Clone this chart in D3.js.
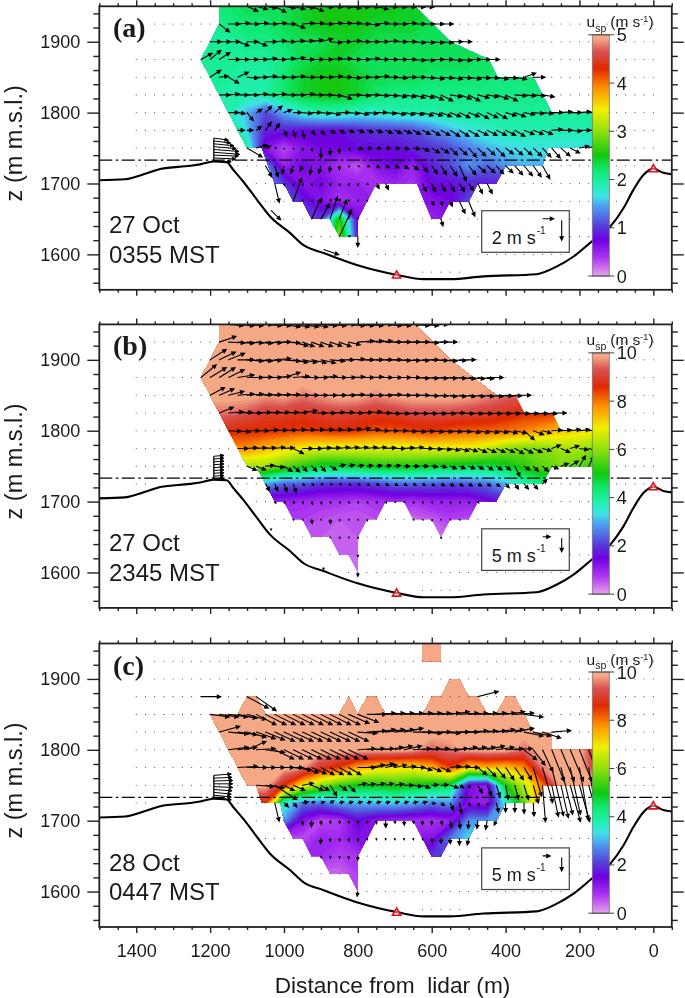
<!DOCTYPE html>
<html>
<head>
<meta charset="utf-8">
<script src="https://cdn.jsdelivr.net/npm/d3@7"></script>
<style>
  body { margin: 0; background: #fff; }
  svg { display: block; filter: blur(0.35px); }
  text { font-family: "Liberation Sans", Arial, sans-serif; fill: #1a1a1a; }
</style>
</head>
<body>
<div id="chart"></div>
<script>
// grid of the colour field (distance from lidar, height)
const fieldDist = [1250,1200,1150,1100,1050,1000,950,900,850,800,750,700,650,600,550,500,450,400,350,300,250,200,150];
const fieldZ = [1950,1925,1900,1875,1850,1825,1800,1775,1750,1725,1700,1675,1650,1625,1600];

const fieldA = [
  [2.2,2.2,2.2,2.3,2.3,2.3,2.4,2.5,2.5,2.5,2.5,2.5,2.4,2.4,2.3,2.3,2.3,2.2,2.2,2.2,2.2,2.2,2.2],
  [2.1,2.1,2.1,2.2,2.2,2.3,2.4,2.5,2.5,2.5,2.4,2.4,2.4,2.3,2.3,2.3,2.3,2.2,2.2,2.2,2.2,2.2,2.2],
  [2.0,2.0,2.0,2.1,2.1,2.2,2.3,2.3,2.4,2.4,2.3,2.3,2.3,2.3,2.3,2.3,2.2,2.2,2.2,2.2,2.2,2.2,2.2],
  [2.0,2.0,2.0,2.0,2.0,2.1,2.3,2.4,2.4,2.3,2.3,2.3,2.3,2.3,2.3,2.3,2.2,2.2,2.2,2.2,2.2,2.2,2.2],
  [2.0,2.0,2.0,1.95,1.95,2.2,2.4,2.5,2.5,2.4,2.3,2.3,2.3,2.2,2.2,2.2,2.2,2.1,2.2,2.2,2.2,2.2,2.2],
  [2.0,2.0,1.9,1.9,1.95,2.2,2.4,2.5,2.5,2.4,2.2,2.1,2.1,2.1,2.1,2.1,2.1,2.1,2.1,2.1,2.1,2.1,2.1],
  [1.9,1.9,1.9,1.5,1.1,1.5,1.8,1.9,1.9,1.8,1.8,1.9,1.9,1.9,2.0,2.0,2.0,2.0,2.0,2.0,2.0,2.0,2.0],
  [2.4,2.4,2.4,1.6,0.9,0.9,0.8,0.8,0.8,0.9,1.0,1.0,1.1,1.3,1.5,1.7,1.8,1.9,1.9,1.9,1.9,1.9,1.9],
  [2.7,2.7,2.7,2.0,0.6,0.3,0.6,0.7,0.7,0.8,0.8,0.8,0.9,1.0,1.1,1.3,1.5,1.6,1.7,1.7,1.7,1.7,1.7],
  [1.4,1.4,1.4,1.4,1.4,0.5,0.7,0.6,0.4,0.25,0.6,0.7,0.5,0.9,1.1,1.4,1.2,1.4,1.5,1.5,1.5,1.5,1.5],
  [1.4,1.4,1.4,1.4,1.4,1.0,0.6,0.7,0.5,0.5,0.4,0.5,0.4,0.8,0.8,0.9,0.9,0.9,0.9,0.9,0.9,0.9,0.9],
  [1.2,1.2,1.2,1.2,1.2,1.2,0.9,0.6,0.4,0.5,0.5,0.5,0.6,0.6,0.7,1.1,1.1,1.1,1.1,1.1,1.1,1.1,1.1],
  [1.0,1.0,1.0,1.0,1.0,1.0,1.0,1.0,2.6,0.7,0.6,0.6,0.6,0.5,0.6,0.6,0.6,0.6,0.6,0.6,0.6,0.6,0.6],
  [1.5,1.5,1.5,1.5,1.5,1.5,1.5,1.5,3.0,0.8,0.8,0.8,0.8,0.8,0.8,0.8,0.8,0.8,0.8,0.8,0.8,0.8,0.8],
  [1.5,1.5,1.5,1.5,1.5,1.5,1.5,1.5,3.0,0.8,0.8,0.8,0.8,0.8,0.8,0.8,0.8,0.8,0.8,0.8,0.8,0.8,0.8]
];
const fieldB = [
  [10,10,10,10,10,10,10,10,10,10,10,10,10,10,10,10,10,10,10,10,10,10,10],
  [10,10,10,10,10,10,10,10,10,10,10,10,10,10,10,10,10,10,10,10,10,10,10],
  [10,10,10,10,10,10,10,10,10,10,10,10,10,10,10,10,10,10,10,10,10,10,10],
  [10,10,10,10,10,10,10,10,10,10,10,10,10,10,10,10,10,10,10,10,10,10,10],
  [10,10,10,10,9.8,9.9,9.6,9.8,10,10,9.7,9.9,10,10,10,9.9,9.7,9.5,9.4,9.3,9.3,9.3,9.3],
  [9.5,9.5,9.5,9.3,9.0,9.0,8.9,9.0,9.1,9.0,8.9,9.0,9.2,9.2,9.2,9.1,9.0,8.8,8.6,8.6,8.5,8.5,8.5],
  [8.8,8.8,8.7,8.6,8.6,8.5,8.4,8.5,8.6,8.5,8.3,8.3,8.4,8.5,8.3,8.2,8.2,8.1,7.9,7.6,7.3,7.1,7.0],
  [7.8,7.8,7.8,7.8,7.4,7.2,6.9,6.7,6.7,6.7,6.7,6.7,6.7,6.8,6.8,6.8,6.5,6.0,5.8,5.9,6.2,6.2,5.7],
  [6.2,6.2,6.2,6.2,6.2,5.6,5.2,4.8,4.8,4.9,5.1,5.1,5.1,4.9,4.8,4.7,4.6,4.8,5.2,5.6,5.8,5.6,5.4],
  [2.9,2.9,2.9,2.9,2.9,2.4,2.3,2.0,1.9,1.9,2.1,2.4,2.4,2.3,2.2,2.3,2.5,3.0,3.8,4.2,4.2,4.2,4.2],
  [1.1,1.1,1.1,1.1,1.1,1.0,0.9,0.8,0.8,0.7,0.8,0.9,0.8,1.0,1.0,1.0,1.4,1.8,1.8,1.8,1.8,1.8,1.8],
  [0.7,0.7,0.7,0.7,0.7,0.7,0.7,0.6,0.5,0.5,0.6,0.6,0.4,0.5,0.7,0.6,0.6,0.6,0.6,0.6,0.6,0.6,0.6],
  [0.5,0.5,0.5,0.5,0.5,0.5,0.5,0.5,0.4,0.5,0.4,0.4,0.4,0.3,0.4,0.4,0.4,0.4,0.4,0.4,0.4,0.4,0.4],
  [0.4,0.4,0.4,0.4,0.4,0.4,0.4,0.4,0.4,0.4,0.4,0.4,0.4,0.4,0.4,0.4,0.4,0.4,0.4,0.4,0.4,0.4,0.4],
  [0.3,0.3,0.3,0.3,0.3,0.3,0.3,0.3,0.3,0.3,0.3,0.3,0.3,0.3,0.3,0.3,0.3,0.3,0.3,0.3,0.3,0.3,0.3]
];
const fieldC = [
  [10,10,10,10,10,10,10,10,10,10,10,10,10,10,10,10,10,10,10,10,10,10,10],
  [10,10,10,10,10,10,10,10,10,10,10,10,10,10,10,10,10,10,10,10,10,10,10],
  [10,10,10,10,10,10,10,10,10,10,10,10,10,10,10,10,10,10,10,10,10,10,10],
  [10,10,10,10,10,10,10,10,10,10,10,10,10,10,10,10,10,10,10,10,10,10,10],
  [10,10,10,10,10,10,10,10,10,10,10,10,10,10,10,10,10,10,10,10,10,10,10],
  [10,10,10,10,10,10,10,10,10,10,10,10,10,10,10,10,10,10,10,10,10,10,10],
  [10,10,10,10,10,10,10,10,10,10,10,10,9.9,9.4,9.6,10,10,10,9.5,10,10,10,8.6],
  [10,10,10,10,10,10,9.8,8.9,8.4,7.6,7.2,7.1,7.0,7.5,8.4,7.2,7.5,7.3,7.8,9.6,10,10,8.8],
  [10,10,10,10,10,8.6,7.0,6.0,5.3,5.0,5.0,5.2,5.0,4.8,4.6,1.4,1.0,5.0,6.4,8.0,10,10,10],
  [8.6,8.6,8.6,8.6,8.6,3.6,2.6,2.5,3.0,3.0,3.1,3.2,3.0,2.6,2.8,1.2,1.0,3.6,5.6,8.2,10,10,10],
  [3.0,3.0,3.0,3.0,3.0,2.8,1.2,0.6,0.7,1.5,1.1,0.9,0.8,0.8,1.0,2.8,2.8,3.0,3.0,3.0,3.0,3.0,3.0],
  [0.6,0.6,0.6,0.6,0.6,0.6,0.6,1.0,0.9,1.3,1.2,1.2,1.2,1.2,2.6,3.3,3.3,3.3,3.3,3.3,3.3,3.3,3.3],
  [0.9,0.9,0.9,0.9,0.9,0.9,0.9,0.9,0.7,0.8,1.5,1.5,1.5,2.0,2.2,2.2,2.2,2.2,2.2,2.2,2.2,2.2,2.2],
  [0.4,0.4,0.4,0.4,0.4,0.4,0.4,0.4,0.4,0.7,0.7,0.7,0.7,0.7,0.7,0.7,0.7,0.7,0.7,0.7,0.7,0.7,0.7],
  [0.6,0.6,0.6,0.6,0.6,0.6,0.6,0.6,0.6,0.6,0.6,0.6,0.6,0.6,0.6,0.6,0.6,0.6,0.6,0.6,0.6,0.6,0.6]
];

// outline of the scanned area in each panel, [distance, height]
const maskA = [[[645,1950],[550,1900],[445,1875],[422,1850],[325,1850],[275,1800],[150,1800],[150,1750],[285,1750],[300,1725],[400,1725],[425,1700],[475,1700],[500,1675],[550,1675],[575,1650],[600,1650],[640,1700],[750,1700],[800,1650],[800,1625],[850,1625],[875,1650],[925,1650],[950,1675],[975,1675],[1000,1700],[1025,1700],[1060,1750],[1100,1750],[1125,1775],[1150,1800],[1175,1825],[1200,1850],[1225,1875],[1175,1925],[1175,1950]]];
const maskB = [[[645,1950],[550,1900],[487,1875],[425,1850],[375,1850],[350,1825],[275,1825],[250,1800],[150,1800],[150,1750],[275,1750],[300,1725],[400,1725],[425,1700],[475,1700],[500,1675],[550,1675],[575,1650],[600,1675],[650,1675],[675,1700],[725,1700],[750,1675],[775,1675],[800,1650],[800,1600],[825,1625],[850,1625],[875,1650],[925,1650],[950,1675],[975,1675],[1000,1700],[1025,1700],[1050,1725],[1075,1750],[1100,1750],[1125,1775],[1150,1800],[1175,1825],[1200,1850],[1225,1875],[1175,1925],[1175,1950]]];
const maskC = [
  [[625,1950],[575,1950],[575,1925],[625,1925]],
  [[1200,1850],[1125,1850],[1100,1875],[1075,1875],[1050,1850],[850,1850],[825,1875],[800,1850],[775,1875],[750,1875],[725,1850],[625,1850],[600,1875],[575,1875],[550,1900],[525,1900],[500,1875],[475,1875],[450,1850],[425,1850],[400,1875],[375,1875],[350,1850],[325,1825],[275,1825],[275,1800],[150,1800],[150,1750],[300,1750],[310,1725],[400,1725],[425,1700],[475,1700],[500,1675],[550,1675],[575,1650],[600,1650],[650,1700],[750,1700],[775,1675],[800,1650],[800,1600],[825,1625],[875,1625],[900,1650],[925,1650],[950,1675],[975,1675],[1000,1700],[1010,1725],[1060,1725],[1075,1750],[1100,1750],[1125,1775],[1150,1800],[1175,1825]]
];

// wind arrows, one row of the lidar grid per entry
const rowZA = [1950,1925,1900,1875,1850,1825,1800,1775,1750,1725,1700,1675,1650,1625];
const rowStartA = [1100,1175,1200,1225,1200,1175,1150,1125,1100,1050,1025,975,925,850];
const uA = [
  [1.9,2,2,2,2,2.1,2.1,2.1,2.2,2.2,2.2,2.2,2.1,2.1,2.1,2.1,2.1,2.1,2.1,2],
  [1.8,2,2.1,2.1,2.1,2.1,2.1,2.1,2.1,2.1,2.2,2.2,2.2,2.2,2.2,2.2,2.2,2.2,2.2,2.2,2.2,2.2,2.2,2.2,2.2],
  [2,2,2,2,2,1.9,2,2,2,2,2,2,2.1,2.1,2.1,2.2,2.2,2.2,2.2,2.2,2.2,2.2,2.2,2.2,2.2,2.2,2.2,2.2],
  [2,1.9,1.9,2,2,2,2,2,2,2,2.1,2.1,2.1,2.1,2.1,2.2,2.2,2.2,2.2,2.2,2.2,2.2,2.2,2.2,2.2,2.2,2.2,2.2,2.2,2.2,2.2,2.2],
  [1.9,1.6,1.8,1.9,2,2,2,2.1,2.1,2.1,2.2,2.2,2.2,2.2,2.2,2.2,2.2,2.2,2.2,2.2,2.2,2.2,2.2,2.2,2.2,2.2,2.2,2.2,2.2,2.2,2.1,2.1,2.1,2.1,2.1,2.1],
  [1.9,1.9,1.9,2,2,2,2,2.1,2.1,2.1,2.1,2.1,2.1,2.2,2.2,2.2,2.2,2.2,2.2,2.1,2.1,2.1,2.1,2.1,2.1,2.1,2.1,2,2,2,2.1,2.1,2.1,2.1,2.1,2.1],
  [1.8,1.3,1.1,1,1.1,1.3,1.4,1.5,1.7,1.7,1.7,1.8,1.8,1.9,1.9,1.9,1.9,1.9,1.9,1.9,1.9,1.9,1.9,1.9,1.9,1.9,1.9,1.9,1.9,1.9,1.9,1.9,1.9,1.9,1.9,2,2,2,2,2,2],
  [1.2,1.1,0.9,1,0.85,0.5,0.4,0.35,0.6,0.65,0.9,1,1,1.1,1.1,1.1,1.2,1.2,1.3,1.3,1.4,1.5,1.6,1.7,1.7,1.8,1.8,1.8,1.8,1.8,1.8,1.8,1.8,1.8,1.9,2,2,2,2,2],
  [2.7,1.9,0.9,0.3,0.1,0.1,0.1,0.1,0,0,0,0.3,1,0.9,0.9,0.9,0.9,0.9,1.2,1.2,1.4,1.4,1.3,1.4,1.4,1.4,1.4,1.5,1.4,1.4,1.4,1.5,1.5,1.5,1.6,1.7,1.7,1.7,1.7],
  [1.1,0.6,-0.3,-0.4,-0.4,-0.3,-0.4,-0.1,0,0.1,0.3,0.5,0.6,0.7,0.8,0.8,0.9,0.9,1,1,1.2,1.2,1.3,1.4,1.4,1.3,1.3,1.4,1.5,1.4,1.3],
  [0.8,0.1,0.1,0.1,0.1,0.1,0.1,0.1,0.1,0.1,0.2,0.5,0.5,0,0,0,0.7,0.7,0.8,0.8,0.9,0.9,0.8,0.9],
  [1.5,0.1,0.1,0.2,0.2,0.2,0.2,0.1,0.1,0,0,0,0,0,0,0.4,0.3,0.4,1,1.1],
  [1.6,1.5,1.3,1.3,0.4,0.1,0,0,0,0,0,0,0,0,0.35],
  [2.2,0.3,0]
];
const wA = [
  [-0.5,-0.3,-0.2,-0.6,-0.2,-0.3,-0.2,-0.5,-0.1,-0.1,-0.1,-0.2,-0.1,-0.1,-0.3,-0.1,-0.1,-0.1,-0.1,-0.1],
  [-0.8,0,0.1,0,0.1,0,0.1,0,-0.4,0.1,0.1,0,0.1,0.1,0.1,0,-0.1,0.1,0,0,0.1,0,0,0,0],
  [0,0,0,-0.4,0,-0.4,0,0.1,0,0.1,0.1,0.2,0.3,-0.1,0,0.1,0,0,0,0.1,0,0,-0.1,-0.1,-0.1,-0.1,0,0],
  [0.6,0.9,0.7,0,0,0,0,0.1,0,0.1,0.2,0,0,0,0.1,0.1,0,0,0.1,0,0,0,0,-0.1,-0.1,0,0,-0.1,-0.1,0,0,0],
  [0.7,0.1,-0.6,0.5,-0.1,0,0.1,0,0,0.1,0,0,0,0.1,0,-0.1,0,0,0.1,0,-0.1,0,0,-0.1,-0.2,-0.1,-0.2,-0.1,-0.2,-0.1,-0.1,-0.2,-0.1,-0.2,0.4,0],
  [0,0.1,0,0,0.1,0,0.1,0,0,0.1,0,0,-0.1,-0.4,0,-0.1,0,-0.1,-0.1,-0.2,-0.2,-0.3,-0.3,-0.5,-0.6,-0.2,-0.4,-0.6,-0.3,-0.2,-0.4,-0.6,-0.1,-0.1,-0.1,-0.2],
  [0,-0.1,-0.8,0.35,0.65,0.65,0.3,0,-0.1,0,-0.1,-0.2,0,-0.1,-0.2,-0.1,0,-0.1,-0.2,-0.2,-0.2,-0.3,-0.3,-0.4,-0.4,-0.5,-0.4,-0.6,-0.5,-0.6,-0.3,-0.4,-0.2,-0.1,-0.1,0,0.1,0,0.1,0,0],
  [0,0,0.4,0.8,0.65,-0.55,-0.7,-0.8,-0.45,-0.45,-0.3,-0.25,-0.2,-0.2,-0.2,-0.2,-0.3,-0.3,-0.3,-0.4,-0.4,-0.5,-0.5,-0.6,-0.6,-0.6,-0.5,-0.5,-0.5,-0.5,-0.6,-0.4,-0.4,-0.4,0.1,0,-0.1,0,0],
  [-0.9,0.3,0.2,0,-0.1,-0.1,-0.2,-0.3,-1,-0.7,-0.5,-0.2,-0.1,-0.05,-0.05,-0.05,-0.05,-0.1,-0.1,-0.3,-0.5,-0.5,-0.7,-0.7,-0.9,-0.8,-0.7,-0.85,-0.6,-0.7,-0.7,-0.8,-0.9,-1,-0.8,-0.5,0.2,0.3,0.3],
  [-1.1,-1.1,-0.8,-0.75,-0.5,-0.85,-0.75,-0.6,-0.4,-0.1,-0.1,-0.1,-0.2,-0.2,-0.2,-0.3,-0.4,-0.6,-0.8,-0.9,-1,-1.5,-0.9,-0.7,-0.7,-0.8,-0.7,-0.9,-1,-1.1,-1.3],
  [-1.9,-0.2,-0.2,-0.2,-0.2,-0.2,-0.2,-0.2,-0.2,-0.2,-0.1,-0.5,-0.6,0,0,0,-0.8,-0.8,-0.8,-0.8,-0.8,-0.7,-1,-1],
  [2.3,0.1,0.1,0.2,0.2,0.2,0.1,0.1,0.1,0,0,0,0,0,0,-0.4,-0.4,-0.5,-1.2,-1.5],
  [2,1.5,2.2,1.9,0.9,0.1,0,0,0,0,0,0,0,0,-0.7],
  [2.7,0.1,-1]
];
const extraA = [[1035,1662,1.7,-0.93],[893,1607,2.7,-0.53]];

const rowZB = [1950,1925,1900,1875,1850,1825,1800,1775,1750,1725,1700,1675,1650,1625];
const rowStartB = [1150,1175,1200,1225,1200,1175,1150,1125,1100,1050,1025,975,875,800];
const uB = [
  [10,11,11,11,11,11,11,11,11,11,11,11,11,11,11,11,11,11,11,11,11,11,11],
  [11.4,11,11,11,11,11,11,11,10,8,8,8,8,8,8,11,11,11,11,11,11,11,11,11,11],
  [11,11,11,11,11,11,11,11,11,10,10,10,10,10,10,11,11,11,11,11,11,11,11,11,11,11,11,11],
  [10.5,11,10.7,10.7,11,11,11,11,11,11,11,11,11,11,11,11,11,11,11,11,11,11,11,11,11,11,11,11,11,11,11,11],
  [10,10,10.5,11,11,11,11,11,11,11,11,11,11,11,11,11,11,11,11,11,11,11,11,11,11,11,11,11,11,11,11,11,11,11],
  [9.5,10,10,10,10,10,10,10,10,10,10,10,10,10,10,10,10,10,10,10,10,10,10,10,10,10,10,10,10,10,10,10,10,10,10,10,10],
  [8.5,8.5,8.5,8.5,8.5,8.5,8.5,8.5,8.5,8.5,8.5,8.5,8.5,8.5,8.5,8.5,8.5,8.5,8.5,8.5,8.5,8,8,8,8,8,8,8,8,8,8,8,7,7,6,7,7,7,7,7,7],
  [7,7,7,7,7,7,7,7,7,7,7,7,7,7,7,7,7,7,7,7,7,7,7,6.5,6.5,6,6,6,6,6,6,6,6,6,6,6,6,6,6,6],
  [6.5,6.5,6,6.5,5.5,4.5,3,3.5,3,4.5,4,4,4,4,4,4,4,4,4,4,4,4,4.5,4,4.5,4,4,4,3.5,3.5,4,3.5,4,4.5,5,5.5,4,3.5,5],
  [2.7,2,2,2,1.5,1.5,1.5,1.5,1.5,1.5,1.5,1.5,2,2,2,2,2,2,2,2.5,2.5,2.5,2.5,2.5,2.5,2.5,2.5,2.5,3,3,3],
  [0.8,0.8,0.8,0.6,0.6,0.5,0.5,0.5,0.5,0.5,0.5,0.5,0.5,0.5,0.5,0.5,0.5,0.5,0.6,0.6,0.6,0.6,0.6],
  [0.3,0.3,0.3,0.3,0.2,0.3,0.3,0.3,0.3,0,0,0,0,0.3,0.3,0.3,0.3,0.3,0.3],
  [0.3,0.3,0.3,0.3,0,0,0,0,0,0,0,0,0.2],
  [0]
];
const wB = [
  [-0.5,-0.5,-0.5,0,-0.5,-0.5,-1,-1,-1,-1,-0.5,-0.5,0,-0.5,-0.5,-0.5,0,-0.5,-0.5,0,-0.5,-0.5,0],
  [2.2,-0.3,-0.5,-0.3,-0.5,-0.3,0,-0.3,-1.5,-1.7,-1.7,-1.7,-1.5,-1.7,-1,0.5,0.5,0.5,0,0,0,0,-0.3,0,0],
  [4,3,2.5,0,-0.5,-0.5,-0.3,0.5,-0.5,-1,-1,-1.2,-1.2,-0.5,0,0.3,0,0,0,0,-0.3,-0.3,-0.3,0,-0.3,-0.5,-0.3,0],
  [4.9,3.8,3.8,3,1,0,0.2,0,0.5,2,0.5,0,0,0.5,0,0,0.3,0,0.3,0,0,0,0,-0.3,-0.3,-0.3,-0.3,-0.3,-0.5,-0.5,-0.5,0],
  [3,2.5,1.5,0.5,0.5,0.3,0.3,0.3,0.3,0,0,0,0,0,0,0.3,0,0,0,0.3,0,0,0,-0.3,-0.3,-0.5,-0.5,-0.5,-0.5,-0.5,-0.5,-0.3,-0.3,0],
  [2.2,0.5,0.3,0,0.3,0.3,0.3,0.3,0.3,1,0,0,0.3,0.3,0,0.3,0.5,0,-0.3,-0.3,-0.3,-0.3,-0.3,-0.3,-0.3,0,-0.3,-0.3,-0.3,-0.3,-0.3,-0.3,-0.3,-0.3,-0.3,-0.3,0],
  [-0.3,-0.5,0,0,0.3,0.3,0.3,0.5,0.5,0.5,0.5,0.5,0.5,0.8,1,0.5,0,0,0,-0.3,-0.5,-0.3,-0.5,-0.5,-0.5,-0.5,-0.8,-0.8,-0.8,-0.8,-1,-1,-3.5,-1.5,-1,0.3,0.3,0.5,0.5,0.5,0.5],
  [0,0.3,0.3,0.3,0.5,0.3,-2,0,0,0.3,0.3,0.5,0.5,0.5,0.5,0.5,0.3,0,0.3,0.5,0,-0.3,-0.5,-0.8,-1,-1.2,-1.5,-1.5,-1.5,-1.5,-2,-1.8,-1.5,-1,1.3,-1.5,1,-0.5,-1,-0.5],
  [-1.6,-1.5,0.3,-0.5,-2,-2.2,-2,-2,-2,-1.5,0.5,0.5,0.3,0.3,0.3,0.3,0.3,0,0,0,-0.3,-0.5,-1,-1,-1,-1.2,-1.5,-1.5,-1.5,-4,-1.5,-2,-2,-1,1,2,4,3.8,1.5],
  [-2.7,-2.7,-3,-3.3,-0.5,-0.5,-0.3,-0.3,-0.3,-0.5,-0.5,-0.5,-0.5,-0.5,-0.5,-0.5,-0.5,-0.5,-0.7,-0.7,-0.8,-0.8,-0.8,-0.8,-0.8,-1,-1.5,-2,-2,-2,1.7],
  [-0.6,-0.6,-0.6,-0.8,-1,-1,-0.6,-0.6,-0.6,-0.6,-0.6,-0.6,-0.6,-0.3,-0.3,-0.6,-0.6,-0.6,-0.6,-0.8,-0.6,-0.6,-0.6],
  [-0.3,-0.3,-1.6,-0.3,-1.6,-0.6,-0.3,-0.3,-0.6,0,0,0,0,-0.3,-0.3,-0.6,-0.3,-0.3,-0.3],
  [-0.3,-0.5,-0.3,-0.5,0,0,0,0,0,0,0,0,-0.5],
  [-0.8]
];
const extraB = [[1035,1662,0,-0.6],[893,1607,0,-0.8],[800,1600,0,-1.5]];

const rowZC = [1850,1825,1800,1775,1750,1725,1700,1675,1650,1600];
const rowStartC = [1200,1175,1150,1125,1075,1025,950,900,900,800];
const uC = [
  [13,13,13,13,13,13.5,14,14,14,14,14,14,14,14,14,14,14,13,13,13,13,13,13,13,13,13,13,13,13,13,13,13,13,13,13],
  [14,13.5,13,13,13,13,13.5,13.5,13.5,13.5,13.5,13.5,13.5,13.5,13.5,13,13,13,13,13,13,13,13,13,13,13,13,13,13,13,12.5,12.5,13,13,12,12.5,13],
  [13.5,13,13,13,13,13,13,13,13,13,13,13,13,13,12,12,12,12,12,12,12,12,12,12,12,12,12,12,12,12,12,12,8.6,8,7,8.4,9,9,8.4,8,8],
  [13.5,13.5,13,13,13,13,12.5,11,10,9,9,8.4,8.4,12,12,12,8,8,8,8,6.5,6.5,6.5,7,7,7,6,6,6,5.7,5.9,5.2,5.7,7,8,8,7,6,6,6],
  [12,13,15,7,8,7.5,8,5.5,4.5,5,4.5,6,5.5,6,5.5,6,6.4,6,5,4.5,5,5.5,3,1,3,3,2.5,1.8,2.5,3,3.4,2,4.5,5,7,7,7,7],
  [3,3,2.5,4,2,2.5,2.5,3,3,3,3,3,3,3,3,3,3,2.5,2.5,2.3,1.5,1,1,0.5,1.5,0,0,0,0.5],
  [0.2,-0.2,0.2,0.3,0.3,0.2,0.2,0.2,0,0.2,0.2,0.2,0.2,0,0,1,1,0.5,-0.3,-0.7,-1,-1.5],
  [-0.3,0,0.2,0.2,0.2,0.1,0.1,0.1,0.1,0.1,0.1,0.1,0.3,0,0,0,-1],
  [0.2,0.2,0.2,0,0],
  [-0.5]
];
const wC = [
  [-1,-1,-1,-1.5,-2,-4,-4,-4,-4,-4,-4,-4,-4,-4,-4,-3.5,-3,0,0.5,0.5,0.5,0.5,0.5,0.5,0.5,0.5,1,0.5,0.5,0.5,0.5,0.5,1,0.5,-1],
  [2.2,-0.7,-1,-2,-2.5,-3,-3.5,-3.5,-3.5,-3.5,-3.5,-3.5,-3.5,-3.5,-3.5,-0.5,0.5,1,1,1,1.5,0,-0.5,0,-0.5,0,0,0.5,0.5,0.5,1,1,1.5,-1.5,-1.5,-2.3,0.6],
  [1,1,3.2,0.5,-1,-3.5,-3.5,-3.5,-3.5,-3.5,-3.5,-3.5,-3.5,-3.5,0.5,0.5,0.5,1,1.5,1.5,0.5,0.5,0.5,0,0.5,1,1,1,1.5,1,0.5,0.5,-3.8,-5.8,-8.3,-12,-12,-12,-12,-12,-12],
  [0.5,0,0,0,0,0,-1,-2,-2.4,-2.8,-2.8,-2.8,-2.8,0,1,1.5,1,1,0.5,0,-1,-1.5,-1.5,0.5,0.5,0,-2.8,-3.5,-4,-4.7,-4.7,-4.7,-11,-13.5,-18.5,-18,-18,-20,-20,-20],
  [-0.5,-1,-5.5,-2,-2,0.8,-2,-2,-4,-2,-2.5,0.7,0.5,0.7,0.7,0.5,0,-0.5,-1,0.2,0.2,-1,-1,-1,-3,-4,-4.3,-5.4,-5.4,-5.5,-6.8,-14,-12,-12.5,-14,-14,-14,-14],
  [-7,-1.5,-1.5,0.5,0.5,0.5,0.8,0.5,0.5,0.5,0.5,0.5,0.5,0.5,0.5,0.5,0.5,-0.2,-1,-2.7,-4,-1,-1,-1,-3.5,-3.5,-3.5,-4,-5],
  [-1.6,-2.3,-1.5,-1,-1,-1,-1,-1,-1.2,-2.6,-1,-1.7,-1,-1.5,-1.5,-1.5,-2.7,-3,-3,-3,-3.3,-1.7],
  [-2,-1,-1,-1,-1,-0.5,-0.5,-0.5,-0.5,-0.5,-0.5,-0.5,-1.5,-1.8,-2,-2.5,-2.5],
  [-0.7,-0.7,-0.7,-1,-1.5],
  [-1.8]
];
const extraC = [[1225,1875,13.6,0],[1100,1875,14.5,-4.4],[1075,1875,13.6,-5.4],[475,1875,13.9,2]];

// tower profile at the crest
const towerDist = 1190;
const towerZ = [1764,1760,1756,1752,1748,1744,1740,1736,1732];
const towerUA = [2.6,3.0,3.6,4.0,4.5,4.6,4.4,3.9,3.1];
const towerWA = [-0.2,-0.2,-0.2,-0.2,-0.2,-0.2,-0.1,-0.1,-0.1];
const towerUB = [7,7,7,7,7,7,7,7,7];
const towerWB = [0.3,0.3,0.3,0.3,0.2,0.2,0.2,0.2,0.2];
const towerUC = [12,12.5,13,13,13,12.5,12,12,12];
const towerWC = [0.5,0.3,0.2,0,-0.3,-0.5,-0.7,-0.7,-0.7];

// terrain cross section, shared by all panels
const terrainDist = [1500,1430,1371,1335,1254,1227,1191,1155,1137,1110,1073,1037,983,947,893,803,694,622,550,460,316,261,216,167,117,81,54,27,0,-27,-50];
const terrainZ = [1704.5,1706,1714.5,1720.5,1725,1727,1731,1730,1719,1702.5,1677,1653,1630,1613,1602,1585,1571,1565,1565,1569,1572,1583,1597,1618,1639,1665,1691,1712,1721,1715,1713];
const siteDist = [695,0];
const siteZ = [1570,1720];

const xMajor = [1400,1200,1000,800,600,400,200,0];
const xMinor = [1500,1450,1350,1300,1250,1150,1100,1050,950,900,850,750,700,650,550,500,450,350,300,250,150,100,50,-50];
const yMajor = [1600,1700,1800,1900];
const yMinor = [1560,1580,1620,1640,1660,1680,1720,1740,1760,1780,1820,1840,1860,1880,1920,1940];

const barStops = [0,0.08,0.15,0.21,0.29,0.33,0.38,0.44,0.5,0.6,0.69,0.78,0.86,0.93,0.985,1];
const barColors = ["#e8a0ee","#a830f0","#6e00e0","#5540d8","#4fa0f0","#40e0e8","#20f0b0","#10e870","#10c810","#90e010","#f0f000","#ff9000","#e02800","#d85050","#f4a886","#f4a886"];

const panelLabels = ["(a)","(b)","(c)"];
const dateLabels = ["27 Oct","27 Oct","28 Oct"];
const timeLabels = ["0355 MST","2345 MST","0447 MST"];
const barTicksA = [0,1,2,3,4,5];
const barTicksBC = [0,2,4,6,8,10];

const width = 685, height = 998;
const svg = d3.select("#chart").append("svg")
  .attr("width", width).attr("height", height)
  .attr("viewBox", `0 0 ${width} ${height}`);

const defs = svg.append("defs");
const x = d3.scaleLinear().domain([1500,-50]).range([99.3,671.8]);
const ramp = d3.scaleLinear().domain(barStops).range(barColors).interpolate(d3.interpolateRgb).clamp(true);
const terrainAt = d3.scaleLinear().domain(terrainDist).range(terrainZ);
const fieldZGridRows = d3.range(1575, 1926, 25);

// line from tail to tip with a filled head, dx and dy-up in pixels
function arrowPath(x0, y0, dx, dyUp) {
  const x1 = x0 + dx, y1 = y0 - dyUp;
  const len = Math.hypot(dx, dyUp);
  if (len < 0.05) return "";
  const ux = dx/len, uy = -dyUp/len;
  const hl = Math.min(3.4, len*0.6), hw = hl*0.48;
  const bx = x1 - ux*hl, by = y1 - uy*hl;
  return `M${x0},${y0}L${bx},${by}M${x1},${y1}L${bx-uy*hw},${by+ux*hw}L${bx+uy*hw},${by-ux*hw}Z`;
}

function drawPanel(p) {
  const y = d3.scaleLinear().domain([1550,1950]).range([p.top + 283.5, p.top]);
  const g = svg.append("g");
  const clipId = "clip" + p.id, maskId = "mask" + p.id;

  defs.append("clipPath").attr("id", clipId).append("rect")
    .attr("x", x(1500)).attr("y", y(1950)).attr("width", x(-50)-x(1500)).attr("height", y(1550)-y(1950));

  const outline = d3.line().x(d => x(d[0])).y(d => y(d[1]));
  defs.append("clipPath").attr("id", maskId).selectAll("path").data(p.mask).join("path")
    .attr("d", d => outline(d) + "Z");

  // colour field
  const nx = fieldDist.length, nz = fieldZ.length;
  const col = d3.scaleLinear().domain([0, nx-1]).range([fieldDist[0], fieldDist[nx-1]]);
  const row = d3.scaleLinear().domain([0, nz-1]).range([fieldZ[0], fieldZ[nz-1]]);
  const levels = d3.range(0, 100).map(i => i/100*p.vmax);
  const contours = d3.contours().size([nx,nz]).thresholds(levels)(p.field.flat());
  const toPx = d3.geoTransform({ point(a,b) { this.stream.point(x(col(a-0.5)), y(row(b-0.5))); } });
  const geo = d3.geoPath(toPx);
  g.append("g").attr("clip-path", `url(#${maskId})`)
    .selectAll("path").data(contours).join("path")
      .attr("d", geo)
      .attr("fill", d => ramp((d.value + p.vmax/200)/p.vmax));

  // lidar grid points
  const dots = [];
  fieldZGridRows.forEach(z => {
    const first = z >= 1900 ? 1350 : 1400;
    d3.range(first, -1, -25).forEach(d => { if (z > terrainAt(d) + 8) dots.push([d,z]); });
  });
  g.append("g").selectAll("circle").data(dots).join("circle")
    .attr("cx", d => x(d[0])).attr("cy", d => y(d[1])).attr("r", 0.55).attr("fill", "#444");

  // terrain
  g.append("path")
    .attr("d", d3.line().x(d => x(d)).y(d => y(terrainAt(d))).curve(d3.curveMonotoneX)(terrainDist))
    .attr("fill","none").attr("stroke","#000").attr("stroke-width",2.1);

  const tri = d3.symbol().type(d3.symbolTriangle).size(30);
  g.append("g").selectAll("path").data(siteDist).join("path")
    .attr("d", tri)
    .attr("transform", (d,i) => `translate(${x(d)},${y(siteZ[i])})`)
    .attr("fill","#fff").attr("fill-opacity",0.5).attr("stroke","#e8101c").attr("stroke-width",1.6);

  // wind arrows
  const arrows = [];
  p.rowZ.forEach((z,i) => {
    p.u[i].forEach((u,j) => arrows.push({ d: p.rowStart[i]-25*j, z, u, w: p.w[i][j] || 0 }));
  });
  p.extra.forEach(e => arrows.push({ d:e[0], z:e[1], u:e[2], w:e[3] }));
  g.append("g").attr("clip-path", `url(#${clipId})`)
    .selectAll("path").data(arrows).join("path")
      .attr("d", d => arrowPath(x(d.d), y(d.z), d.u*p.ku, d.w*p.kw))
      .attr("fill","#000").attr("stroke","#000").attr("stroke-width",1.1);

  // tower
  const tower = g.append("g");
  tower.selectAll("path").data(towerZ).join("path")
    .attr("d", (z,i) => arrowPath(x(towerDist), y(z), p.towerU[i]*p.ku, p.towerW[i]*p.kw))
    .attr("fill","#000").attr("stroke","#000").attr("stroke-width",1);
  tower.append("line")
    .attr("x1", x(towerDist)).attr("x2", x(towerDist))
    .attr("y1", y(towerZ[0])).attr("y2", y(towerZ[towerZ.length-1]))
    .attr("stroke","#000").attr("stroke-width",1.3);

  // crest height reference line
  g.append("line")
    .attr("x1", x(1500)).attr("x2", x(-50)).attr("y1", y(1733)).attr("y2", y(1733))
    .attr("stroke","#000").attr("stroke-width",1.3).attr("stroke-dasharray","13,3.5,2.5,3.5");

  // frame and ticks
  const tickStyle = s => {
    s.select(".domain").remove();
    s.selectAll("line").attr("stroke","#222").attr("stroke-width",1.4);
    s.selectAll("text").attr("font-size",18).style("fill","#1a1a1a");
  };
  const axisAt = (axis, tx, ty) => g.append("g").attr("transform",`translate(${tx},${ty})`).call(axis).call(tickStyle);

  axisAt(d3.axisLeft(y).tickValues(yMinor).tickSize(6).tickFormat(""), x(1500), 0);
  axisAt(d3.axisLeft(y).tickValues(yMajor).tickSize(12).tickPadding(7).tickFormat(d3.format("d")), x(1500), 0);
  axisAt(d3.axisRight(y).tickValues(yMinor).tickSize(6).tickFormat(""), x(-50), 0);
  axisAt(d3.axisRight(y).tickValues(yMajor).tickSize(12).tickFormat(""), x(-50), 0);
  axisAt(d3.axisTop(x).tickValues(xMinor).tickSize(3).tickFormat(""), 0, y(1950));
  axisAt(d3.axisTop(x).tickValues(xMajor).tickSize(6).tickFormat(""), 0, y(1950));
  axisAt(d3.axisBottom(x).tickValues(xMinor).tickSize(3).tickFormat(""), 0, y(1550));
  axisAt(d3.axisBottom(x).tickValues(xMajor).tickSize(6).tickPadding(11)
    .tickFormat(p.xLabels ? d3.format("d") : ""), 0, y(1550));

  g.append("rect")
    .attr("x", x(1500)).attr("y", y(1950)).attr("width", x(-50)-x(1500)).attr("height", y(1550)-y(1950))
    .attr("fill","none").attr("stroke","#222").attr("stroke-width",1.8);

  // colour bar
  const barTop = p.top + 28.5, barBottom = p.top + 269.7, barX = 592.3, barW = 17;
  const bar = d3.scaleLinear().domain([0,p.vmax]).range([barBottom,barTop]);
  const grad = defs.append("linearGradient").attr("id","grad"+p.id)
    .attr("x1",0).attr("x2",0).attr("y1",1).attr("y2",0);
  grad.selectAll("stop").data(barStops).join("stop")
    .attr("offset", d => d).attr("stop-color", (d,i) => barColors[i]);
  g.append("rect").attr("x",barX).attr("y",barTop).attr("width",barW).attr("height",barBottom-barTop)
    .attr("fill",`url(#grad${p.id})`).attr("stroke","#777").attr("stroke-width",0.8);
  g.append("g").selectAll("line").data(p.barTicks).join("line")
    .attr("x1", d => (d===0||d===p.vmax) ? barX-4 : barX+barW)
    .attr("x2", barX+barW+5)
    .attr("y1", d => bar(d)).attr("y2", d => bar(d))
    .attr("stroke","#444").attr("stroke-width",1);
  g.append("g").selectAll("text").data(p.barTicks).join("text")
    .attr("x", barX+barW+7.5).attr("y", d => bar(d)+6.5).attr("font-size",18).text(d => d);

  const title = g.append("text").attr("x",586.5).attr("y",barTop-7.5).attr("font-size",15.5);
  title.append("tspan").text("u");
  title.append("tspan").attr("font-size",10.5).attr("dy",4.5).text("sp");
  title.append("tspan").attr("dx",4).attr("dy",-4.5).text("(m s");
  title.append("tspan").attr("font-size",9).attr("dy",-5).text("-1");
  title.append("tspan").attr("dy",5).text(")");

  // labels inside the frame
  g.append("text").attr("x",113).attr("y",p.top+31)
    .style("font-family","'Liberation Serif',serif").style("font-weight","bold").attr("font-size",28).text(panelLabels[p.id]);
  g.append("text").attr("x",109).attr("y",p.top+227).attr("font-size",24).text(dateLabels[p.id]);
  g.append("text").attr("x",109).attr("y",p.top+256.5).attr("font-size",24).text(timeLabels[p.id]);
  g.append("text").attr("transform",`translate(22,${p.top+137}) rotate(-90)`)
    .attr("text-anchor","middle").attr("font-size",23.5).text("z (m m.s.l.)");

  // scale box
  const bx = 481.7, by = p.top + 204.4;
  g.append("rect").attr("x",bx).attr("y",by).attr("width",87.6).attr("height",41.6)
    .attr("fill","#fff").attr("stroke","#444").attr("stroke-width",1.2);
  const keyText = g.append("text").attr("x",bx+10).attr("y",by+33).attr("font-size",18);
  keyText.append("tspan").text(p.keyLabel);
  keyText.append("tspan").attr("font-size",10).attr("dy",-10).attr("dx",1).text("-1");
  g.append("path").attr("d", arrowPath(bx+61, by+8, p.keyH, 0))
    .attr("fill","#000").attr("stroke","#000").attr("stroke-width",1.1);
  g.append("path").attr("d", arrowPath(bx+80, by+9.5, 0, -p.keyV))
    .attr("fill","#000").attr("stroke","#000").attr("stroke-width",1.1);
}

drawPanel({ id:0, top:6.3, vmax:5, field:fieldA, mask:maskA, rowZ:rowZA, rowStart:rowStartA, u:uA, w:wA, extra:extraA,
  ku:5.6, kw:10, towerU:towerUA, towerW:towerWA, barTicks:barTicksA, keyLabel:"2 m s", keyH:11, keyV:20, xLabels:false });
drawPanel({ id:1, top:324.4, vmax:10, field:fieldB, mask:maskB, rowZ:rowZB, rowStart:rowStartB, u:uB, w:wB, extra:extraB,
  ku:1.46, kw:2.6, towerU:towerUB, towerW:towerWB, barTicks:barTicksBC, keyLabel:"5 m s", keyH:7.5, keyV:13.5, xLabels:false });
drawPanel({ id:2, top:643.5, vmax:10, field:fieldC, mask:maskC, rowZ:rowZC, rowStart:rowStartC, u:uC, w:wC, extra:extraC,
  ku:1.46, kw:2.6, towerU:towerUC, towerW:towerWC, barTicks:barTicksBC, keyLabel:"5 m s", keyH:7.5, keyV:13.5, xLabels:true });

svg.append("text").attr("x",392.5).attr("y",993).attr("text-anchor","middle").attr("font-size",22.7)
  .style("white-space","pre").text("Distance from  lidar (m)");
</script>
</body>
</html>
